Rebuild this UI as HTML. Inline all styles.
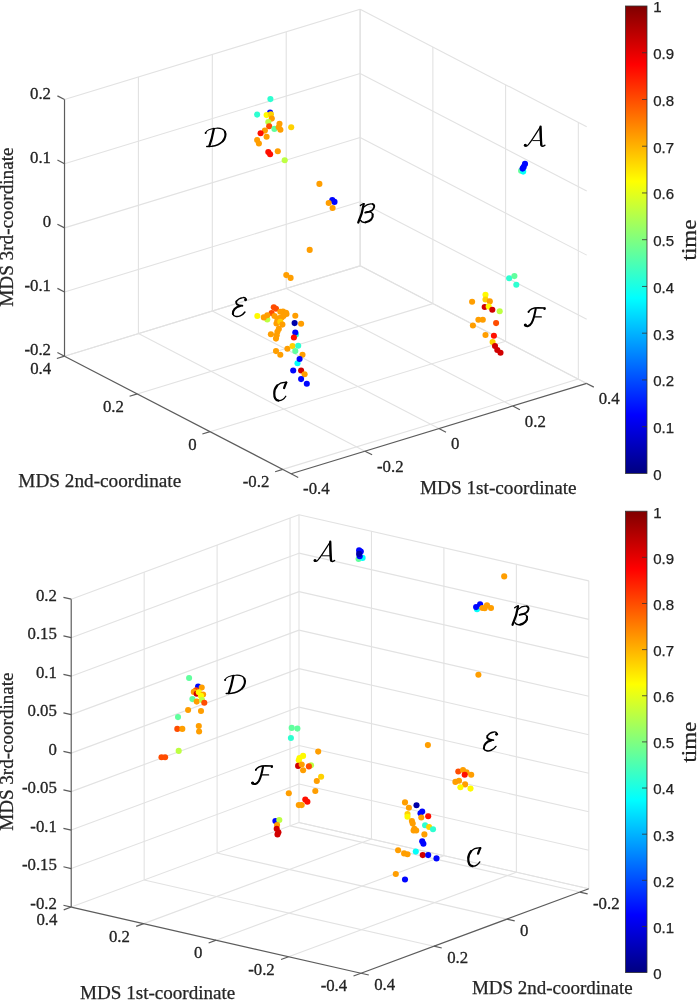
<!DOCTYPE html>
<html><head><meta charset="utf-8"><style>
html,body{margin:0;padding:0;background:#fff;width:697px;height:1000px;overflow:hidden}
svg{display:block;will-change:transform}
text{fill:#262626}
</style></head><body>
<svg width="697" height="1000" viewBox="0 0 697 1000" shape-rendering="geometricPrecision">
<defs><linearGradient id="jt" x1="0" y1="1" x2="0" y2="0">
<stop offset="0" stop-color="#000080"/><stop offset="0.125" stop-color="#0000ff"/><stop offset="0.375" stop-color="#00ffff"/>
<stop offset="0.625" stop-color="#ffff00"/><stop offset="0.875" stop-color="#ff0000"/><stop offset="1" stop-color="#800000"/></linearGradient><linearGradient id="jb" x1="0" y1="1" x2="0" y2="0">
<stop offset="0" stop-color="#000080"/><stop offset="0.125" stop-color="#0000ff"/><stop offset="0.375" stop-color="#00ffff"/>
<stop offset="0.625" stop-color="#ffff00"/><stop offset="0.875" stop-color="#ff0000"/><stop offset="1" stop-color="#800000"/></linearGradient></defs>
<g fill="none">
<line x1="138.42" y1="333.60" x2="138.42" y2="77.00" stroke="#e2e2e2" stroke-width="1.1"/>
<line x1="212.32" y1="311.02" x2="212.32" y2="54.42" stroke="#e2e2e2" stroke-width="1.1"/>
<line x1="286.22" y1="288.44" x2="286.22" y2="31.84" stroke="#e2e2e2" stroke-width="1.1"/>
<line x1="360.12" y1="265.86" x2="360.12" y2="9.26" stroke="#e2e2e2" stroke-width="1.1"/>
<line x1="64.52" y1="356.18" x2="360.12" y2="265.86" stroke="#e2e2e2" stroke-width="1.1"/>
<line x1="64.52" y1="292.03" x2="360.12" y2="201.71" stroke="#e2e2e2" stroke-width="1.1"/>
<line x1="64.52" y1="227.88" x2="360.12" y2="137.56" stroke="#e2e2e2" stroke-width="1.1"/>
<line x1="64.52" y1="163.73" x2="360.12" y2="73.41" stroke="#e2e2e2" stroke-width="1.1"/>
<line x1="64.52" y1="99.58" x2="360.12" y2="9.26" stroke="#e2e2e2" stroke-width="1.1"/>
<line x1="578.34" y1="379.08" x2="578.34" y2="122.48" stroke="#e2e2e2" stroke-width="1.1"/>
<line x1="505.60" y1="341.34" x2="505.60" y2="84.74" stroke="#e2e2e2" stroke-width="1.1"/>
<line x1="432.86" y1="303.60" x2="432.86" y2="47.00" stroke="#e2e2e2" stroke-width="1.1"/>
<line x1="360.12" y1="265.86" x2="360.12" y2="9.26" stroke="#e2e2e2" stroke-width="1.1"/>
<line x1="586.71" y1="383.42" x2="360.12" y2="265.86" stroke="#e2e2e2" stroke-width="1.1"/>
<line x1="586.71" y1="319.27" x2="360.12" y2="201.71" stroke="#e2e2e2" stroke-width="1.1"/>
<line x1="586.71" y1="255.12" x2="360.12" y2="137.56" stroke="#e2e2e2" stroke-width="1.1"/>
<line x1="586.71" y1="190.97" x2="360.12" y2="73.41" stroke="#e2e2e2" stroke-width="1.1"/>
<line x1="586.71" y1="126.82" x2="360.12" y2="9.26" stroke="#e2e2e2" stroke-width="1.1"/>
<line x1="365.01" y1="451.16" x2="138.42" y2="333.60" stroke="#e2e2e2" stroke-width="1.1"/>
<line x1="438.91" y1="428.58" x2="212.32" y2="311.02" stroke="#e2e2e2" stroke-width="1.1"/>
<line x1="512.81" y1="406.00" x2="286.22" y2="288.44" stroke="#e2e2e2" stroke-width="1.1"/>
<line x1="586.71" y1="383.42" x2="360.12" y2="265.86" stroke="#e2e2e2" stroke-width="1.1"/>
<line x1="282.74" y1="469.40" x2="578.34" y2="379.08" stroke="#e2e2e2" stroke-width="1.1"/>
<line x1="210.00" y1="431.66" x2="505.60" y2="341.34" stroke="#e2e2e2" stroke-width="1.1"/>
<line x1="137.26" y1="393.92" x2="432.86" y2="303.60" stroke="#e2e2e2" stroke-width="1.1"/>
<line x1="64.52" y1="356.18" x2="360.12" y2="265.86" stroke="#e2e2e2" stroke-width="1.1"/>
<line x1="64.52" y1="356.18" x2="64.52" y2="99.58" stroke="#5c5c5c" stroke-width="1.2"/>
<line x1="64.52" y1="356.18" x2="291.11" y2="473.74" stroke="#5c5c5c" stroke-width="1.2"/>
<line x1="291.11" y1="473.74" x2="586.71" y2="383.42" stroke="#5c5c5c" stroke-width="1.2"/>
<line x1="64.52" y1="356.18" x2="57.42" y2="352.50" stroke="#5c5c5c" stroke-width="1.2"/>
<text fill="#1c1c1c" stroke="#1c1c1c" stroke-width="0.3" x="51.02" y="355.18" font-size="16.8" text-anchor="end" font-family="Liberation Serif" >-0.2</text>
<line x1="64.52" y1="292.03" x2="57.42" y2="288.35" stroke="#5c5c5c" stroke-width="1.2"/>
<text fill="#1c1c1c" stroke="#1c1c1c" stroke-width="0.3" x="51.02" y="291.03" font-size="16.8" text-anchor="end" font-family="Liberation Serif" >-0.1</text>
<line x1="64.52" y1="227.88" x2="57.42" y2="224.20" stroke="#5c5c5c" stroke-width="1.2"/>
<text fill="#1c1c1c" stroke="#1c1c1c" stroke-width="0.3" x="51.02" y="226.88" font-size="16.8" text-anchor="end" font-family="Liberation Serif" >0</text>
<line x1="64.52" y1="163.73" x2="57.42" y2="160.05" stroke="#5c5c5c" stroke-width="1.2"/>
<text fill="#1c1c1c" stroke="#1c1c1c" stroke-width="0.3" x="51.02" y="162.73" font-size="16.8" text-anchor="end" font-family="Liberation Serif" >0.1</text>
<line x1="64.52" y1="99.58" x2="57.42" y2="95.90" stroke="#5c5c5c" stroke-width="1.2"/>
<text fill="#1c1c1c" stroke="#1c1c1c" stroke-width="0.3" x="51.02" y="98.58" font-size="16.8" text-anchor="end" font-family="Liberation Serif" >0.2</text>
<line x1="282.74" y1="469.40" x2="275.09" y2="471.74" stroke="#5c5c5c" stroke-width="1.2"/>
<text fill="#1c1c1c" stroke="#1c1c1c" stroke-width="0.3" x="269.34" y="487.30" font-size="16.8" text-anchor="end" font-family="Liberation Serif" >-0.2</text>
<line x1="210.00" y1="431.66" x2="202.35" y2="434.00" stroke="#5c5c5c" stroke-width="1.2"/>
<text fill="#1c1c1c" stroke="#1c1c1c" stroke-width="0.3" x="196.60" y="449.56" font-size="16.8" text-anchor="end" font-family="Liberation Serif" >0</text>
<line x1="137.26" y1="393.92" x2="129.61" y2="396.26" stroke="#5c5c5c" stroke-width="1.2"/>
<text fill="#1c1c1c" stroke="#1c1c1c" stroke-width="0.3" x="123.86" y="411.82" font-size="16.8" text-anchor="end" font-family="Liberation Serif" >0.2</text>
<line x1="64.52" y1="356.18" x2="56.87" y2="358.52" stroke="#5c5c5c" stroke-width="1.2"/>
<text fill="#1c1c1c" stroke="#1c1c1c" stroke-width="0.3" x="51.12" y="374.08" font-size="16.8" text-anchor="end" font-family="Liberation Serif" >0.4</text>
<line x1="291.11" y1="473.74" x2="298.21" y2="477.42" stroke="#5c5c5c" stroke-width="1.2"/>
<text fill="#1c1c1c" stroke="#1c1c1c" stroke-width="0.3" x="303.11" y="494.34" font-size="16.8" text-anchor="start" font-family="Liberation Serif" >-0.4</text>
<line x1="365.01" y1="451.16" x2="372.11" y2="454.84" stroke="#5c5c5c" stroke-width="1.2"/>
<text fill="#1c1c1c" stroke="#1c1c1c" stroke-width="0.3" x="377.01" y="471.76" font-size="16.8" text-anchor="start" font-family="Liberation Serif" >-0.2</text>
<line x1="438.91" y1="428.58" x2="446.01" y2="432.26" stroke="#5c5c5c" stroke-width="1.2"/>
<text fill="#1c1c1c" stroke="#1c1c1c" stroke-width="0.3" x="450.91" y="449.18" font-size="16.8" text-anchor="start" font-family="Liberation Serif" >0</text>
<line x1="512.81" y1="406.00" x2="519.91" y2="409.68" stroke="#5c5c5c" stroke-width="1.2"/>
<text fill="#1c1c1c" stroke="#1c1c1c" stroke-width="0.3" x="524.81" y="426.60" font-size="16.8" text-anchor="start" font-family="Liberation Serif" >0.2</text>
<line x1="586.71" y1="383.42" x2="593.81" y2="387.10" stroke="#5c5c5c" stroke-width="1.2"/>
<text fill="#1c1c1c" stroke="#1c1c1c" stroke-width="0.3" x="598.71" y="404.02" font-size="16.8" text-anchor="start" font-family="Liberation Serif" >0.4</text>
<line x1="144.16" y1="880.00" x2="144.16" y2="572.12" stroke="#e2e2e2" stroke-width="1.1"/>
<line x1="217.10" y1="852.94" x2="217.10" y2="545.06" stroke="#e2e2e2" stroke-width="1.1"/>
<line x1="290.04" y1="825.88" x2="290.04" y2="518.00" stroke="#e2e2e2" stroke-width="1.1"/>
<line x1="299.01" y1="822.55" x2="299.01" y2="514.67" stroke="#e2e2e2" stroke-width="1.1"/>
<line x1="299.01" y1="822.55" x2="71.22" y2="907.06" stroke="#e2e2e2" stroke-width="1.1"/>
<line x1="299.01" y1="784.07" x2="71.22" y2="868.58" stroke="#e2e2e2" stroke-width="1.1"/>
<line x1="299.01" y1="745.58" x2="71.22" y2="830.09" stroke="#e2e2e2" stroke-width="1.1"/>
<line x1="299.01" y1="707.10" x2="71.22" y2="791.61" stroke="#e2e2e2" stroke-width="1.1"/>
<line x1="299.01" y1="668.61" x2="71.22" y2="753.12" stroke="#e2e2e2" stroke-width="1.1"/>
<line x1="299.01" y1="630.13" x2="71.22" y2="714.63" stroke="#e2e2e2" stroke-width="1.1"/>
<line x1="299.01" y1="591.64" x2="71.22" y2="676.15" stroke="#e2e2e2" stroke-width="1.1"/>
<line x1="299.01" y1="553.16" x2="71.22" y2="637.66" stroke="#e2e2e2" stroke-width="1.1"/>
<line x1="299.01" y1="514.67" x2="71.22" y2="599.18" stroke="#e2e2e2" stroke-width="1.1"/>
<line x1="371.46" y1="839.10" x2="371.46" y2="531.22" stroke="#e2e2e2" stroke-width="1.1"/>
<line x1="443.91" y1="855.65" x2="443.91" y2="547.77" stroke="#e2e2e2" stroke-width="1.1"/>
<line x1="516.36" y1="872.20" x2="516.36" y2="564.32" stroke="#e2e2e2" stroke-width="1.1"/>
<line x1="588.81" y1="888.75" x2="588.81" y2="580.87" stroke="#e2e2e2" stroke-width="1.1"/>
<line x1="588.81" y1="888.75" x2="299.01" y2="822.55" stroke="#e2e2e2" stroke-width="1.1"/>
<line x1="588.81" y1="850.27" x2="299.01" y2="784.07" stroke="#e2e2e2" stroke-width="1.1"/>
<line x1="588.81" y1="811.78" x2="299.01" y2="745.58" stroke="#e2e2e2" stroke-width="1.1"/>
<line x1="588.81" y1="773.30" x2="299.01" y2="707.10" stroke="#e2e2e2" stroke-width="1.1"/>
<line x1="588.81" y1="734.81" x2="299.01" y2="668.61" stroke="#e2e2e2" stroke-width="1.1"/>
<line x1="588.81" y1="696.33" x2="299.01" y2="630.13" stroke="#e2e2e2" stroke-width="1.1"/>
<line x1="588.81" y1="657.84" x2="299.01" y2="591.64" stroke="#e2e2e2" stroke-width="1.1"/>
<line x1="588.81" y1="619.36" x2="299.01" y2="553.16" stroke="#e2e2e2" stroke-width="1.1"/>
<line x1="588.81" y1="580.87" x2="299.01" y2="514.67" stroke="#e2e2e2" stroke-width="1.1"/>
<line x1="371.46" y1="839.10" x2="143.67" y2="923.61" stroke="#e2e2e2" stroke-width="1.1"/>
<line x1="443.91" y1="855.65" x2="216.12" y2="940.16" stroke="#e2e2e2" stroke-width="1.1"/>
<line x1="516.36" y1="872.20" x2="288.57" y2="956.71" stroke="#e2e2e2" stroke-width="1.1"/>
<line x1="579.84" y1="892.08" x2="290.04" y2="825.88" stroke="#e2e2e2" stroke-width="1.1"/>
<line x1="506.90" y1="919.14" x2="217.10" y2="852.94" stroke="#e2e2e2" stroke-width="1.1"/>
<line x1="433.96" y1="946.20" x2="144.16" y2="880.00" stroke="#e2e2e2" stroke-width="1.1"/>
<line x1="588.81" y1="888.75" x2="299.01" y2="822.55" stroke="#e2e2e2" stroke-width="1.1"/>
<line x1="71.22" y1="907.06" x2="71.22" y2="599.18" stroke="#5c5c5c" stroke-width="1.2"/>
<line x1="71.22" y1="907.06" x2="361.02" y2="973.26" stroke="#5c5c5c" stroke-width="1.2"/>
<line x1="361.02" y1="973.26" x2="588.81" y2="888.75" stroke="#5c5c5c" stroke-width="1.2"/>
<line x1="71.22" y1="907.06" x2="63.42" y2="905.28" stroke="#5c5c5c" stroke-width="1.2"/>
<text fill="#1c1c1c" stroke="#1c1c1c" stroke-width="0.3" x="56.92" y="908.66" font-size="16.8" text-anchor="end" font-family="Liberation Serif" >-0.2</text>
<line x1="71.22" y1="868.58" x2="63.42" y2="866.79" stroke="#5c5c5c" stroke-width="1.2"/>
<text fill="#1c1c1c" stroke="#1c1c1c" stroke-width="0.3" x="56.92" y="870.18" font-size="16.8" text-anchor="end" font-family="Liberation Serif" >-0.15</text>
<line x1="71.22" y1="830.09" x2="63.42" y2="828.31" stroke="#5c5c5c" stroke-width="1.2"/>
<text fill="#1c1c1c" stroke="#1c1c1c" stroke-width="0.3" x="56.92" y="831.69" font-size="16.8" text-anchor="end" font-family="Liberation Serif" >-0.1</text>
<line x1="71.22" y1="791.61" x2="63.42" y2="789.82" stroke="#5c5c5c" stroke-width="1.2"/>
<text fill="#1c1c1c" stroke="#1c1c1c" stroke-width="0.3" x="56.92" y="793.21" font-size="16.8" text-anchor="end" font-family="Liberation Serif" >-0.05</text>
<line x1="71.22" y1="753.12" x2="63.42" y2="751.34" stroke="#5c5c5c" stroke-width="1.2"/>
<text fill="#1c1c1c" stroke="#1c1c1c" stroke-width="0.3" x="56.92" y="754.72" font-size="16.8" text-anchor="end" font-family="Liberation Serif" >0</text>
<line x1="71.22" y1="714.63" x2="63.42" y2="712.85" stroke="#5c5c5c" stroke-width="1.2"/>
<text fill="#1c1c1c" stroke="#1c1c1c" stroke-width="0.3" x="56.92" y="716.24" font-size="16.8" text-anchor="end" font-family="Liberation Serif" >0.05</text>
<line x1="71.22" y1="676.15" x2="63.42" y2="674.37" stroke="#5c5c5c" stroke-width="1.2"/>
<text fill="#1c1c1c" stroke="#1c1c1c" stroke-width="0.3" x="56.92" y="677.75" font-size="16.8" text-anchor="end" font-family="Liberation Serif" >0.1</text>
<line x1="71.22" y1="637.66" x2="63.42" y2="635.88" stroke="#5c5c5c" stroke-width="1.2"/>
<text fill="#1c1c1c" stroke="#1c1c1c" stroke-width="0.3" x="56.92" y="639.26" font-size="16.8" text-anchor="end" font-family="Liberation Serif" >0.15</text>
<line x1="71.22" y1="599.18" x2="63.42" y2="597.40" stroke="#5c5c5c" stroke-width="1.2"/>
<text fill="#1c1c1c" stroke="#1c1c1c" stroke-width="0.3" x="56.92" y="600.78" font-size="16.8" text-anchor="end" font-family="Liberation Serif" >0.2</text>
<line x1="361.02" y1="973.26" x2="353.52" y2="976.04" stroke="#5c5c5c" stroke-width="1.2"/>
<text fill="#1c1c1c" stroke="#1c1c1c" stroke-width="0.3" x="347.22" y="991.16" font-size="16.8" text-anchor="end" font-family="Liberation Serif" >-0.4</text>
<line x1="288.57" y1="956.71" x2="281.07" y2="959.49" stroke="#5c5c5c" stroke-width="1.2"/>
<text fill="#1c1c1c" stroke="#1c1c1c" stroke-width="0.3" x="274.77" y="974.61" font-size="16.8" text-anchor="end" font-family="Liberation Serif" >-0.2</text>
<line x1="216.12" y1="940.16" x2="208.62" y2="942.94" stroke="#5c5c5c" stroke-width="1.2"/>
<text fill="#1c1c1c" stroke="#1c1c1c" stroke-width="0.3" x="202.32" y="958.06" font-size="16.8" text-anchor="end" font-family="Liberation Serif" >0</text>
<line x1="143.67" y1="923.61" x2="136.17" y2="926.39" stroke="#5c5c5c" stroke-width="1.2"/>
<text fill="#1c1c1c" stroke="#1c1c1c" stroke-width="0.3" x="129.87" y="941.51" font-size="16.8" text-anchor="end" font-family="Liberation Serif" >0.2</text>
<line x1="71.22" y1="907.06" x2="63.72" y2="909.84" stroke="#5c5c5c" stroke-width="1.2"/>
<text fill="#1c1c1c" stroke="#1c1c1c" stroke-width="0.3" x="57.42" y="924.96" font-size="16.8" text-anchor="end" font-family="Liberation Serif" >0.4</text>
<line x1="579.84" y1="892.08" x2="587.64" y2="893.86" stroke="#5c5c5c" stroke-width="1.2"/>
<text fill="#1c1c1c" stroke="#1c1c1c" stroke-width="0.3" x="593.04" y="908.98" font-size="16.8" text-anchor="start" font-family="Liberation Serif" >-0.2</text>
<line x1="506.90" y1="919.14" x2="514.70" y2="920.92" stroke="#5c5c5c" stroke-width="1.2"/>
<text fill="#1c1c1c" stroke="#1c1c1c" stroke-width="0.3" x="520.10" y="936.04" font-size="16.8" text-anchor="start" font-family="Liberation Serif" >0</text>
<line x1="433.96" y1="946.20" x2="441.76" y2="947.98" stroke="#5c5c5c" stroke-width="1.2"/>
<text fill="#1c1c1c" stroke="#1c1c1c" stroke-width="0.3" x="447.16" y="963.10" font-size="16.8" text-anchor="start" font-family="Liberation Serif" >0.2</text>
<line x1="361.02" y1="973.26" x2="368.82" y2="975.04" stroke="#5c5c5c" stroke-width="1.2"/>
<text fill="#1c1c1c" stroke="#1c1c1c" stroke-width="0.3" x="374.22" y="990.16" font-size="16.8" text-anchor="start" font-family="Liberation Serif" >0.4</text>
</g>
<circle cx="270.4" cy="99.1" r="3.05" fill="#2effd1"/>
<circle cx="257.1" cy="114.6" r="3.05" fill="#2effd1"/>
<circle cx="270.1" cy="112.5" r="3.05" fill="#0005ff"/>
<circle cx="266.6" cy="115.1" r="3.05" fill="#fffa00"/>
<circle cx="270.9" cy="114.3" r="3.05" fill="#ffd100"/>
<circle cx="271.8" cy="118.6" r="3.05" fill="#ff9e00"/>
<circle cx="268.3" cy="122.0" r="3.05" fill="#bdff42"/>
<circle cx="269.2" cy="126.3" r="3.05" fill="#ff4c00"/>
<circle cx="274.4" cy="128.9" r="3.05" fill="#61ff9e"/>
<circle cx="279.5" cy="123.7" r="3.05" fill="#ff9e00"/>
<circle cx="280.4" cy="129.8" r="3.05" fill="#ff9e00"/>
<circle cx="278.7" cy="127.2" r="3.05" fill="#ff9e00"/>
<circle cx="264.9" cy="130.6" r="3.05" fill="#ff9e00"/>
<circle cx="260.6" cy="133.2" r="3.05" fill="#ff0f00"/>
<circle cx="266.6" cy="136.7" r="3.05" fill="#ff9e00"/>
<circle cx="257.1" cy="140.1" r="3.05" fill="#ff9e00"/>
<circle cx="258.9" cy="143.5" r="3.05" fill="#ff9e00"/>
<circle cx="268.3" cy="152.1" r="3.05" fill="#ff0f00"/>
<circle cx="270.1" cy="154.2" r="3.05" fill="#ff0f00"/>
<circle cx="277.8" cy="151.3" r="3.05" fill="#ff9e00"/>
<circle cx="284.7" cy="160.2" r="3.05" fill="#bdff42"/>
<circle cx="291.2" cy="127.2" r="3.05" fill="#ffd100"/>
<circle cx="319.4" cy="183.9" r="3.05" fill="#ff9e00"/>
<circle cx="332.3" cy="200.1" r="3.05" fill="#0005ff"/>
<circle cx="334.5" cy="201.9" r="3.05" fill="#0005ff"/>
<circle cx="328.7" cy="203.0" r="3.05" fill="#ff9e00"/>
<circle cx="332.6" cy="208.0" r="3.05" fill="#ff9e00"/>
<circle cx="309.7" cy="249.9" r="3.05" fill="#ff9e00"/>
<circle cx="267.3" cy="319.5" r="3.05" fill="#bdff42"/>
<circle cx="296.0" cy="334.6" r="3.05" fill="#2effd1"/>
<circle cx="286.3" cy="275.1" r="3.05" fill="#ff9e00"/>
<circle cx="290.6" cy="277.9" r="3.05" fill="#ff9e00"/>
<circle cx="273.8" cy="307.3" r="3.05" fill="#ff4c00"/>
<circle cx="276.0" cy="308.8" r="3.05" fill="#ff4c00"/>
<circle cx="271.6" cy="313.1" r="3.05" fill="#ff4c00"/>
<circle cx="257.3" cy="316.0" r="3.05" fill="#fffa00"/>
<circle cx="263.8" cy="317.4" r="3.05" fill="#ff9e00"/>
<circle cx="267.3" cy="315.2" r="3.05" fill="#ff9e00"/>
<circle cx="283.0" cy="311.5" r="3.05" fill="#ff9e00"/>
<circle cx="286.5" cy="314.0" r="3.05" fill="#ff9e00"/>
<circle cx="279.5" cy="318.0" r="3.05" fill="#ff9e00"/>
<circle cx="283.5" cy="316.0" r="3.05" fill="#ff9e00"/>
<circle cx="276.5" cy="323.5" r="3.05" fill="#ff9e00"/>
<circle cx="274.5" cy="316.0" r="3.05" fill="#ff9e00"/>
<circle cx="280.3" cy="311.7" r="3.05" fill="#ff9e00"/>
<circle cx="286.0" cy="312.8" r="3.05" fill="#ff9e00"/>
<circle cx="281.7" cy="317.4" r="3.05" fill="#ff9e00"/>
<circle cx="277.4" cy="320.3" r="3.05" fill="#ff9e00"/>
<circle cx="280.3" cy="321.7" r="3.05" fill="#ffd100"/>
<circle cx="282.4" cy="324.6" r="3.05" fill="#ff9e00"/>
<circle cx="278.8" cy="328.9" r="3.05" fill="#ff9e00"/>
<circle cx="277.4" cy="331.7" r="3.05" fill="#ff9e00"/>
<circle cx="270.9" cy="334.3" r="3.05" fill="#ff9e00"/>
<circle cx="276.7" cy="335.3" r="3.05" fill="#ff9e00"/>
<circle cx="276.0" cy="338.6" r="3.05" fill="#ff9e00"/>
<circle cx="295.3" cy="315.7" r="3.05" fill="#ff9e00"/>
<circle cx="294.6" cy="323.1" r="3.05" fill="#0000a8"/>
<circle cx="301.1" cy="323.8" r="3.05" fill="#ff9e00"/>
<circle cx="295.3" cy="332.5" r="3.05" fill="#0005ff"/>
<circle cx="293.9" cy="337.5" r="3.05" fill="#ff0f00"/>
<circle cx="287.4" cy="348.7" r="3.05" fill="#ff9e00"/>
<circle cx="292.5" cy="346.1" r="3.05" fill="#ffd100"/>
<circle cx="298.2" cy="345.7" r="3.05" fill="#2effd1"/>
<circle cx="295.3" cy="351.1" r="3.05" fill="#61ff9e"/>
<circle cx="276.0" cy="351.1" r="3.05" fill="#ff9e00"/>
<circle cx="280.3" cy="354.7" r="3.05" fill="#ff9e00"/>
<circle cx="302.5" cy="354.7" r="3.05" fill="#ff9e00"/>
<circle cx="297.5" cy="363.3" r="3.05" fill="#05fffa"/>
<circle cx="299.6" cy="359.0" r="3.05" fill="#0005ff"/>
<circle cx="293.2" cy="370.5" r="3.05" fill="#0005ff"/>
<circle cx="301.1" cy="370.5" r="3.05" fill="#d10000"/>
<circle cx="304.6" cy="374.3" r="3.05" fill="#ff9e00"/>
<circle cx="301.1" cy="379.1" r="3.05" fill="#0005ff"/>
<circle cx="306.8" cy="383.7" r="3.05" fill="#0005ff"/>
<circle cx="521.1" cy="170.8" r="3.05" fill="#61ff9e"/>
<circle cx="523.2" cy="171.6" r="3.05" fill="#05fffa"/>
<circle cx="522.6" cy="168.6" r="3.05" fill="#0005ff"/>
<circle cx="523.7" cy="166.9" r="3.05" fill="#0005ff"/>
<circle cx="525.0" cy="163.9" r="3.05" fill="#0005ff"/>
<circle cx="509.2" cy="278.2" r="3.05" fill="#2effd1"/>
<circle cx="514.4" cy="276.1" r="3.05" fill="#61ff9e"/>
<circle cx="516.3" cy="284.8" r="3.05" fill="#2effd1"/>
<circle cx="472.1" cy="301.8" r="3.05" fill="#ff9e00"/>
<circle cx="485.5" cy="294.7" r="3.05" fill="#fffa00"/>
<circle cx="485.5" cy="299.5" r="3.05" fill="#ffd100"/>
<circle cx="489.8" cy="301.4" r="3.05" fill="#ff9e00"/>
<circle cx="484.7" cy="307.0" r="3.05" fill="#d10000"/>
<circle cx="488.7" cy="306.6" r="3.05" fill="#fffa00"/>
<circle cx="492.3" cy="309.7" r="3.05" fill="#d10000"/>
<circle cx="499.7" cy="311.3" r="3.05" fill="#bdff42"/>
<circle cx="478.4" cy="319.7" r="3.05" fill="#ff9e00"/>
<circle cx="482.8" cy="319.7" r="3.05" fill="#ff9e00"/>
<circle cx="472.9" cy="325.5" r="3.05" fill="#ff9e00"/>
<circle cx="496.1" cy="323.1" r="3.05" fill="#ff4c00"/>
<circle cx="485.5" cy="335.0" r="3.05" fill="#ff9e00"/>
<circle cx="492.6" cy="342.1" r="3.05" fill="#ffd100"/>
<circle cx="493.9" cy="335.8" r="3.05" fill="#ff0f00"/>
<circle cx="495.0" cy="346.0" r="3.05" fill="#d10000"/>
<circle cx="497.3" cy="350.0" r="3.05" fill="#d10000"/>
<circle cx="500.5" cy="352.8" r="3.05" fill="#d10000"/>
<circle cx="358.6" cy="559.0" r="3.05" fill="#61ff9e"/>
<circle cx="362.6" cy="557.9" r="3.05" fill="#05fffa"/>
<circle cx="359.7" cy="556.2" r="3.05" fill="#0005ff"/>
<circle cx="359.1" cy="550.4" r="3.05" fill="#0005ff"/>
<circle cx="360.8" cy="551.6" r="3.05" fill="#0005ff"/>
<circle cx="359.1" cy="553.9" r="3.05" fill="#0000a8"/>
<circle cx="504.2" cy="576.4" r="3.05" fill="#ff9e00"/>
<circle cx="477.0" cy="609.3" r="3.05" fill="#05fffa"/>
<circle cx="476.1" cy="607.1" r="3.05" fill="#0005ff"/>
<circle cx="480.1" cy="604.2" r="3.05" fill="#0005ff"/>
<circle cx="482.4" cy="608.0" r="3.05" fill="#ff9e00"/>
<circle cx="487.0" cy="605.3" r="3.05" fill="#ff9e00"/>
<circle cx="484.7" cy="608.2" r="3.05" fill="#ff9e00"/>
<circle cx="491.0" cy="608.0" r="3.05" fill="#ff9e00"/>
<circle cx="478.4" cy="674.8" r="3.05" fill="#ff9e00"/>
<circle cx="427.9" cy="745.1" r="3.05" fill="#ff9e00"/>
<circle cx="189.1" cy="678.0" r="3.05" fill="#61ff9e"/>
<circle cx="198.1" cy="686.6" r="3.05" fill="#0005ff"/>
<circle cx="201.7" cy="687.6" r="3.05" fill="#ff9e00"/>
<circle cx="196.0" cy="690.2" r="3.05" fill="#ff4c00"/>
<circle cx="193.8" cy="691.9" r="3.05" fill="#ff9e00"/>
<circle cx="196.7" cy="693.8" r="3.05" fill="#d10000"/>
<circle cx="198.8" cy="692.3" r="3.05" fill="#fffa00"/>
<circle cx="203.1" cy="694.5" r="3.05" fill="#ff9e00"/>
<circle cx="201.0" cy="695.9" r="3.05" fill="#fffa00"/>
<circle cx="192.4" cy="699.1" r="3.05" fill="#61ff9e"/>
<circle cx="196.7" cy="701.6" r="3.05" fill="#ff9e00"/>
<circle cx="202.0" cy="700.0" r="3.05" fill="#bdff42"/>
<circle cx="204.3" cy="702.8" r="3.05" fill="#ff4c00"/>
<circle cx="188.1" cy="710.0" r="3.05" fill="#ff9e00"/>
<circle cx="201.0" cy="711.0" r="3.05" fill="#ff9e00"/>
<circle cx="178.0" cy="717.1" r="3.05" fill="#61ff9e"/>
<circle cx="177.3" cy="728.9" r="3.05" fill="#ff4c00"/>
<circle cx="182.3" cy="728.9" r="3.05" fill="#ff9e00"/>
<circle cx="198.8" cy="726.0" r="3.05" fill="#ff9e00"/>
<circle cx="199.1" cy="731.5" r="3.05" fill="#ff9e00"/>
<circle cx="178.7" cy="750.9" r="3.05" fill="#bdff42"/>
<circle cx="161.5" cy="757.3" r="3.05" fill="#ff4c00"/>
<circle cx="165.1" cy="757.3" r="3.05" fill="#ff4c00"/>
<circle cx="291.7" cy="727.9" r="3.05" fill="#61ff9e"/>
<circle cx="297.4" cy="728.6" r="3.05" fill="#61ff9e"/>
<circle cx="290.9" cy="738.0" r="3.05" fill="#2effd1"/>
<circle cx="318.2" cy="751.6" r="3.05" fill="#ff9e00"/>
<circle cx="303.1" cy="755.9" r="3.05" fill="#fffa00"/>
<circle cx="299.5" cy="758.0" r="3.05" fill="#fffa00"/>
<circle cx="298.8" cy="760.2" r="3.05" fill="#fffa00"/>
<circle cx="311.0" cy="765.2" r="3.05" fill="#bdff42"/>
<circle cx="298.1" cy="765.9" r="3.05" fill="#d10000"/>
<circle cx="301.7" cy="764.5" r="3.05" fill="#ff9e00"/>
<circle cx="308.9" cy="766.4" r="3.05" fill="#ff4c00"/>
<circle cx="303.1" cy="770.2" r="3.05" fill="#ff9e00"/>
<circle cx="321.1" cy="776.7" r="3.05" fill="#ffd100"/>
<circle cx="316.8" cy="781.0" r="3.05" fill="#ff9e00"/>
<circle cx="315.3" cy="791.0" r="3.05" fill="#ff9e00"/>
<circle cx="288.8" cy="793.2" r="3.05" fill="#ff9e00"/>
<circle cx="305.3" cy="799.6" r="3.05" fill="#ff0f00"/>
<circle cx="307.4" cy="801.8" r="3.05" fill="#ff0f00"/>
<circle cx="298.8" cy="805.1" r="3.05" fill="#ff9e00"/>
<circle cx="301.7" cy="805.1" r="3.05" fill="#ff9e00"/>
<circle cx="275.4" cy="821.1" r="3.05" fill="#0005ff"/>
<circle cx="279.3" cy="820.0" r="3.05" fill="#bdff42"/>
<circle cx="277.1" cy="825.0" r="3.05" fill="#ff9e00"/>
<circle cx="276.7" cy="828.8" r="3.05" fill="#d10000"/>
<circle cx="278.4" cy="832.3" r="3.05" fill="#d10000"/>
<circle cx="277.5" cy="834.4" r="3.05" fill="#d10000"/>
<circle cx="458.3" cy="771.5" r="3.05" fill="#ff4c00"/>
<circle cx="463.0" cy="770.1" r="3.05" fill="#ff9e00"/>
<circle cx="466.5" cy="772.2" r="3.05" fill="#ff9e00"/>
<circle cx="464.7" cy="774.7" r="3.05" fill="#ff0f00"/>
<circle cx="471.2" cy="774.7" r="3.05" fill="#ff9e00"/>
<circle cx="455.4" cy="781.9" r="3.05" fill="#ff9e00"/>
<circle cx="459.0" cy="780.8" r="3.05" fill="#ff9e00"/>
<circle cx="465.1" cy="784.4" r="3.05" fill="#ff9e00"/>
<circle cx="460.4" cy="787.3" r="3.05" fill="#fffa00"/>
<circle cx="470.5" cy="788.6" r="3.05" fill="#fffa00"/>
<circle cx="405.0" cy="802.4" r="3.05" fill="#ff9e00"/>
<circle cx="416.5" cy="805.2" r="3.05" fill="#0000a8"/>
<circle cx="408.9" cy="807.7" r="3.05" fill="#ff9e00"/>
<circle cx="422.2" cy="811.5" r="3.05" fill="#0005ff"/>
<circle cx="420.5" cy="813.2" r="3.05" fill="#0005ff"/>
<circle cx="407.5" cy="814.1" r="3.05" fill="#ffd100"/>
<circle cx="407.5" cy="816.7" r="3.05" fill="#fffa00"/>
<circle cx="421.3" cy="817.5" r="3.05" fill="#ff9e00"/>
<circle cx="428.2" cy="816.2" r="3.05" fill="#ff0f00"/>
<circle cx="411.9" cy="821.0" r="3.05" fill="#ff9e00"/>
<circle cx="412.7" cy="823.6" r="3.05" fill="#ff9e00"/>
<circle cx="425.1" cy="825.3" r="3.05" fill="#2effd1"/>
<circle cx="429.1" cy="827.0" r="3.05" fill="#ffd100"/>
<circle cx="433.0" cy="829.3" r="3.05" fill="#2effd1"/>
<circle cx="414.4" cy="828.7" r="3.05" fill="#ff9e00"/>
<circle cx="413.6" cy="830.5" r="3.05" fill="#ff9e00"/>
<circle cx="416.2" cy="830.5" r="3.05" fill="#ff9e00"/>
<circle cx="424.4" cy="834.4" r="3.05" fill="#ff9e00"/>
<circle cx="422.2" cy="841.3" r="3.05" fill="#0005ff"/>
<circle cx="423.4" cy="843.7" r="3.05" fill="#0005ff"/>
<circle cx="398.1" cy="850.3" r="3.05" fill="#ff9e00"/>
<circle cx="404.1" cy="853.4" r="3.05" fill="#ff9e00"/>
<circle cx="407.5" cy="854.2" r="3.05" fill="#ff9e00"/>
<circle cx="415.8" cy="851.6" r="3.05" fill="#05fffa"/>
<circle cx="422.7" cy="855.1" r="3.05" fill="#d10000"/>
<circle cx="428.2" cy="855.1" r="3.05" fill="#0005ff"/>
<circle cx="436.5" cy="858.4" r="3.05" fill="#0005ff"/>
<circle cx="395.8" cy="874.0" r="3.05" fill="#ff9e00"/>
<circle cx="405.0" cy="879.5" r="3.05" fill="#0005ff"/>
<rect x="625.5" y="6.0" width="21.5" height="467.4" fill="url(#jt)" stroke="#333" stroke-width="0.8"/>
<text x="653.2" y="479.80" font-size="15" font-family="Liberation Sans" fill="#111" stroke="#111" stroke-width="0.25">0</text>
<line x1="642.0" y1="426.66" x2="647.0" y2="426.66" stroke="#333" stroke-width="0.8"/>
<text x="653.2" y="433.06" font-size="15" font-family="Liberation Sans" fill="#111" stroke="#111" stroke-width="0.25">0.1</text>
<line x1="642.0" y1="379.92" x2="647.0" y2="379.92" stroke="#333" stroke-width="0.8"/>
<text x="653.2" y="386.32" font-size="15" font-family="Liberation Sans" fill="#111" stroke="#111" stroke-width="0.25">0.2</text>
<line x1="642.0" y1="333.18" x2="647.0" y2="333.18" stroke="#333" stroke-width="0.8"/>
<text x="653.2" y="339.58" font-size="15" font-family="Liberation Sans" fill="#111" stroke="#111" stroke-width="0.25">0.3</text>
<line x1="642.0" y1="286.44" x2="647.0" y2="286.44" stroke="#333" stroke-width="0.8"/>
<text x="653.2" y="292.84" font-size="15" font-family="Liberation Sans" fill="#111" stroke="#111" stroke-width="0.25">0.4</text>
<line x1="642.0" y1="239.70" x2="647.0" y2="239.70" stroke="#333" stroke-width="0.8"/>
<text x="653.2" y="246.10" font-size="15" font-family="Liberation Sans" fill="#111" stroke="#111" stroke-width="0.25">0.5</text>
<line x1="642.0" y1="192.96" x2="647.0" y2="192.96" stroke="#333" stroke-width="0.8"/>
<text x="653.2" y="199.36" font-size="15" font-family="Liberation Sans" fill="#111" stroke="#111" stroke-width="0.25">0.6</text>
<line x1="642.0" y1="146.22" x2="647.0" y2="146.22" stroke="#333" stroke-width="0.8"/>
<text x="653.2" y="152.62" font-size="15" font-family="Liberation Sans" fill="#111" stroke="#111" stroke-width="0.25">0.7</text>
<line x1="642.0" y1="99.48" x2="647.0" y2="99.48" stroke="#333" stroke-width="0.8"/>
<text x="653.2" y="105.88" font-size="15" font-family="Liberation Sans" fill="#111" stroke="#111" stroke-width="0.25">0.8</text>
<line x1="642.0" y1="52.74" x2="647.0" y2="52.74" stroke="#333" stroke-width="0.8"/>
<text x="653.2" y="59.14" font-size="15" font-family="Liberation Sans" fill="#111" stroke="#111" stroke-width="0.25">0.9</text>
<text x="653.2" y="12.40" font-size="15" font-family="Liberation Sans" fill="#111" stroke="#111" stroke-width="0.25">1</text>
<rect x="625.5" y="511.2" width="21.5" height="461.40000000000003" fill="url(#jb)" stroke="#333" stroke-width="0.8"/>
<text x="653.2" y="979.00" font-size="15" font-family="Liberation Sans" fill="#111" stroke="#111" stroke-width="0.25">0</text>
<line x1="642.0" y1="926.46" x2="647.0" y2="926.46" stroke="#333" stroke-width="0.8"/>
<text x="653.2" y="932.86" font-size="15" font-family="Liberation Sans" fill="#111" stroke="#111" stroke-width="0.25">0.1</text>
<line x1="642.0" y1="880.32" x2="647.0" y2="880.32" stroke="#333" stroke-width="0.8"/>
<text x="653.2" y="886.72" font-size="15" font-family="Liberation Sans" fill="#111" stroke="#111" stroke-width="0.25">0.2</text>
<line x1="642.0" y1="834.18" x2="647.0" y2="834.18" stroke="#333" stroke-width="0.8"/>
<text x="653.2" y="840.58" font-size="15" font-family="Liberation Sans" fill="#111" stroke="#111" stroke-width="0.25">0.3</text>
<line x1="642.0" y1="788.04" x2="647.0" y2="788.04" stroke="#333" stroke-width="0.8"/>
<text x="653.2" y="794.44" font-size="15" font-family="Liberation Sans" fill="#111" stroke="#111" stroke-width="0.25">0.4</text>
<line x1="642.0" y1="741.90" x2="647.0" y2="741.90" stroke="#333" stroke-width="0.8"/>
<text x="653.2" y="748.30" font-size="15" font-family="Liberation Sans" fill="#111" stroke="#111" stroke-width="0.25">0.5</text>
<line x1="642.0" y1="695.76" x2="647.0" y2="695.76" stroke="#333" stroke-width="0.8"/>
<text x="653.2" y="702.16" font-size="15" font-family="Liberation Sans" fill="#111" stroke="#111" stroke-width="0.25">0.6</text>
<line x1="642.0" y1="649.62" x2="647.0" y2="649.62" stroke="#333" stroke-width="0.8"/>
<text x="653.2" y="656.02" font-size="15" font-family="Liberation Sans" fill="#111" stroke="#111" stroke-width="0.25">0.7</text>
<line x1="642.0" y1="603.48" x2="647.0" y2="603.48" stroke="#333" stroke-width="0.8"/>
<text x="653.2" y="609.88" font-size="15" font-family="Liberation Sans" fill="#111" stroke="#111" stroke-width="0.25">0.8</text>
<line x1="642.0" y1="557.34" x2="647.0" y2="557.34" stroke="#333" stroke-width="0.8"/>
<text x="653.2" y="563.74" font-size="15" font-family="Liberation Sans" fill="#111" stroke="#111" stroke-width="0.25">0.9</text>
<text x="653.2" y="517.60" font-size="15" font-family="Liberation Sans" fill="#111" stroke="#111" stroke-width="0.25">1</text>
<text x="18.3" y="487.3" font-size="18.5" font-family="Liberation Serif" fill="#1c1c1c" stroke="#1c1c1c" stroke-width="0.25" textLength="162.89999999999998" lengthAdjust="spacingAndGlyphs">MDS 2nd-coordinate</text>
<text x="419.9" y="494.0" font-size="18.5" font-family="Liberation Serif" fill="#1c1c1c" stroke="#1c1c1c" stroke-width="0.25" textLength="156.70000000000005" lengthAdjust="spacingAndGlyphs">MDS 1st-coordinate</text>
<text transform="translate(12.9,306.8) rotate(-90)" x="0" y="0" font-size="18.5" font-family="Liberation Serif" fill="#1c1c1c" stroke="#1c1c1c" stroke-width="0.25" textLength="159.4" lengthAdjust="spacingAndGlyphs">MDS 3rd-coordinate</text>
<text x="80.1" y="998.5" font-size="18.5" font-family="Liberation Serif" fill="#1c1c1c" stroke="#1c1c1c" stroke-width="0.25" textLength="155.20000000000002" lengthAdjust="spacingAndGlyphs">MDS 1st-coordinate</text>
<text x="471.9" y="993.9" font-size="18.5" font-family="Liberation Serif" fill="#1c1c1c" stroke="#1c1c1c" stroke-width="0.25" textLength="160.80000000000007" lengthAdjust="spacingAndGlyphs">MDS 2nd-coordinate</text>
<text transform="translate(12.9,830.8) rotate(-90)" x="0" y="0" font-size="18.5" font-family="Liberation Serif" fill="#1c1c1c" stroke="#1c1c1c" stroke-width="0.25" textLength="158.29999999999995" lengthAdjust="spacingAndGlyphs">MDS 3rd-coordinate</text>
<text transform="translate(695.8,260.4) rotate(-90)" x="0" y="0" font-size="21" font-family="Liberation Serif" fill="#1c1c1c" stroke="#1c1c1c" stroke-width="0.25" textLength="40.8" lengthAdjust="spacingAndGlyphs">time</text>
<text transform="translate(695.8,762.6) rotate(-90)" x="0" y="0" font-size="21" font-family="Liberation Serif" fill="#1c1c1c" stroke="#1c1c1c" stroke-width="0.25" textLength="40.8" lengthAdjust="spacingAndGlyphs">time</text>
<g transform="translate(520,122) scale(0.04304)"><path d="M478,105 C420,190 300,400 200,520 C160,570 120,580 110,530" fill="none" stroke="#000" stroke-width="28.0" stroke-linecap="round" stroke-linejoin="round"/><path d="M478,105 C485,250 482,430 498,545" fill="none" stroke="#000" stroke-width="52.0" stroke-linecap="round" stroke-linejoin="round"/><path d="M470,140 C475,300 480,400 490,520" fill="none" stroke="#000" stroke-width="40.0" stroke-linecap="round" stroke-linejoin="round"/><path d="M498,545 C505,575 550,565 578,540" fill="none" stroke="#000" stroke-width="34.0" stroke-linecap="round" stroke-linejoin="round"/><path d="M295,432 L468,432" fill="none" stroke="#000" stroke-width="22.0" stroke-linecap="round" stroke-linejoin="round"/><circle cx="125" cy="540" r="36" fill="#000"/></g>
<g transform="translate(352,198) scale(0.04304)"><path d="M195,175 C220,150 250,135 280,130" fill="none" stroke="#000" stroke-width="32.0" stroke-linecap="round" stroke-linejoin="round"/><path d="M272,140 C250,300 200,450 145,570" fill="none" stroke="#000" stroke-width="52.0" stroke-linecap="round" stroke-linejoin="round"/><path d="M275,210 C330,160 420,125 480,140" fill="none" stroke="#000" stroke-width="28.0" stroke-linecap="round" stroke-linejoin="round"/><path d="M480,140 C540,160 520,250 460,290 C410,320 350,335 310,340" fill="none" stroke="#000" stroke-width="44.0" stroke-linecap="round" stroke-linejoin="round"/><path d="M310,335 C380,305 460,310 480,380" fill="none" stroke="#000" stroke-width="30.0" stroke-linecap="round" stroke-linejoin="round"/><path d="M480,380 C500,470 420,545 320,565" fill="none" stroke="#000" stroke-width="50.0" stroke-linecap="round" stroke-linejoin="round"/><path d="M320,565 C260,575 220,560 200,520" fill="none" stroke="#000" stroke-width="34.0" stroke-linecap="round" stroke-linejoin="round"/></g>
<g transform="translate(266,376) scale(0.04304)"><path d="M470,150 C440,220 430,250 420,280" fill="none" stroke="#000" stroke-width="52.0" stroke-linecap="round" stroke-linejoin="round"/><path d="M480,150 C400,138 320,160 260,220" fill="none" stroke="#000" stroke-width="30.0" stroke-linecap="round" stroke-linejoin="round"/><path d="M260,220 C210,280 190,340 192,400 C190,480 220,560 290,572" fill="none" stroke="#000" stroke-width="52.0" stroke-linecap="round" stroke-linejoin="round"/><path d="M290,572 C370,575 430,520 460,470" fill="none" stroke="#000" stroke-width="30.0" stroke-linecap="round" stroke-linejoin="round"/></g>
<g transform="translate(202,122) scale(0.04304)"><path d="M80,255 C110,190 200,150 330,145 C420,140 500,160 530,220" fill="none" stroke="#000" stroke-width="28.0" stroke-linecap="round" stroke-linejoin="round"/><path d="M530,220 C560,280 545,380 480,450" fill="none" stroke="#000" stroke-width="48.0" stroke-linecap="round" stroke-linejoin="round"/><path d="M480,450 C420,510 330,555 230,565 L110,570" fill="none" stroke="#000" stroke-width="34.0" stroke-linecap="round" stroke-linejoin="round"/><path d="M275,160 C250,300 220,430 170,560" fill="none" stroke="#000" stroke-width="52.0" stroke-linecap="round" stroke-linejoin="round"/><circle cx="85" cy="255" r="22" fill="#000"/></g>
<g transform="translate(226,292) scale(0.04304)"><path d="M450,195 C480,150 440,120 390,130 C330,140 270,170 240,220" fill="none" stroke="#000" stroke-width="32.0" stroke-linecap="round" stroke-linejoin="round"/><path d="M240,220 C220,270 260,320 380,318" fill="none" stroke="#000" stroke-width="44.0" stroke-linecap="round" stroke-linejoin="round"/><path d="M330,325 C220,350 150,430 160,510" fill="none" stroke="#000" stroke-width="50.0" stroke-linecap="round" stroke-linejoin="round"/><path d="M160,510 C170,570 260,585 330,555 C380,535 415,500 440,465" fill="none" stroke="#000" stroke-width="34.0" stroke-linecap="round" stroke-linejoin="round"/><circle cx="455" cy="180" r="34" fill="#000"/></g>
<g transform="translate(520,302) scale(0.04304)"><path d="M195,235 C230,160 300,135 420,135 L580,140" fill="none" stroke="#000" stroke-width="34.0" stroke-linecap="round" stroke-linejoin="round"/><path d="M365,160 C340,300 320,400 270,490 C230,560 150,585 115,535" fill="none" stroke="#000" stroke-width="48.0" stroke-linecap="round" stroke-linejoin="round"/><path d="M335,348 L495,348" fill="none" stroke="#000" stroke-width="30.0" stroke-linecap="round" stroke-linejoin="round"/><circle cx="570" cy="158" r="28" fill="#000"/><circle cx="125" cy="535" r="36" fill="#000"/><circle cx="200" cy="228" r="22" fill="#000"/></g>
<g transform="translate(309.7,537.2) scale(0.04304)"><path d="M478,105 C420,190 300,400 200,520 C160,570 120,580 110,530" fill="none" stroke="#000" stroke-width="28.0" stroke-linecap="round" stroke-linejoin="round"/><path d="M478,105 C485,250 482,430 498,545" fill="none" stroke="#000" stroke-width="52.0" stroke-linecap="round" stroke-linejoin="round"/><path d="M470,140 C475,300 480,400 490,520" fill="none" stroke="#000" stroke-width="40.0" stroke-linecap="round" stroke-linejoin="round"/><path d="M498,545 C505,575 550,565 578,540" fill="none" stroke="#000" stroke-width="34.0" stroke-linecap="round" stroke-linejoin="round"/><path d="M295,432 L468,432" fill="none" stroke="#000" stroke-width="22.0" stroke-linecap="round" stroke-linejoin="round"/><circle cx="125" cy="540" r="36" fill="#000"/></g>
<g transform="translate(506.3,600.3) scale(0.04304)"><path d="M195,175 C220,150 250,135 280,130" fill="none" stroke="#000" stroke-width="32.0" stroke-linecap="round" stroke-linejoin="round"/><path d="M272,140 C250,300 200,450 145,570" fill="none" stroke="#000" stroke-width="52.0" stroke-linecap="round" stroke-linejoin="round"/><path d="M275,210 C330,160 420,125 480,140" fill="none" stroke="#000" stroke-width="28.0" stroke-linecap="round" stroke-linejoin="round"/><path d="M480,140 C540,160 520,250 460,290 C410,320 350,335 310,340" fill="none" stroke="#000" stroke-width="44.0" stroke-linecap="round" stroke-linejoin="round"/><path d="M310,335 C380,305 460,310 480,380" fill="none" stroke="#000" stroke-width="30.0" stroke-linecap="round" stroke-linejoin="round"/><path d="M480,380 C500,470 420,545 320,565" fill="none" stroke="#000" stroke-width="50.0" stroke-linecap="round" stroke-linejoin="round"/><path d="M320,565 C260,575 220,560 200,520" fill="none" stroke="#000" stroke-width="34.0" stroke-linecap="round" stroke-linejoin="round"/></g>
<g transform="translate(460,841.6) scale(0.04304)"><path d="M470,150 C440,220 430,250 420,280" fill="none" stroke="#000" stroke-width="52.0" stroke-linecap="round" stroke-linejoin="round"/><path d="M480,150 C400,138 320,160 260,220" fill="none" stroke="#000" stroke-width="30.0" stroke-linecap="round" stroke-linejoin="round"/><path d="M260,220 C210,280 190,340 192,400 C190,480 220,560 290,572" fill="none" stroke="#000" stroke-width="52.0" stroke-linecap="round" stroke-linejoin="round"/><path d="M290,572 C370,575 430,520 460,470" fill="none" stroke="#000" stroke-width="30.0" stroke-linecap="round" stroke-linejoin="round"/></g>
<g transform="translate(221.5,669) scale(0.04304)"><path d="M80,255 C110,190 200,150 330,145 C420,140 500,160 530,220" fill="none" stroke="#000" stroke-width="28.0" stroke-linecap="round" stroke-linejoin="round"/><path d="M530,220 C560,280 545,380 480,450" fill="none" stroke="#000" stroke-width="48.0" stroke-linecap="round" stroke-linejoin="round"/><path d="M480,450 C420,510 330,555 230,565 L110,570" fill="none" stroke="#000" stroke-width="34.0" stroke-linecap="round" stroke-linejoin="round"/><path d="M275,160 C250,300 220,430 170,560" fill="none" stroke="#000" stroke-width="52.0" stroke-linecap="round" stroke-linejoin="round"/><circle cx="85" cy="255" r="22" fill="#000"/></g>
<g transform="translate(477,726.4) scale(0.04304)"><path d="M450,195 C480,150 440,120 390,130 C330,140 270,170 240,220" fill="none" stroke="#000" stroke-width="32.0" stroke-linecap="round" stroke-linejoin="round"/><path d="M240,220 C220,270 260,320 380,318" fill="none" stroke="#000" stroke-width="44.0" stroke-linecap="round" stroke-linejoin="round"/><path d="M330,325 C220,350 150,430 160,510" fill="none" stroke="#000" stroke-width="50.0" stroke-linecap="round" stroke-linejoin="round"/><path d="M160,510 C170,570 260,585 330,555 C380,535 415,500 440,465" fill="none" stroke="#000" stroke-width="34.0" stroke-linecap="round" stroke-linejoin="round"/><circle cx="455" cy="180" r="34" fill="#000"/></g>
<g transform="translate(247.3,759.9) scale(0.04304)"><path d="M195,235 C230,160 300,135 420,135 L580,140" fill="none" stroke="#000" stroke-width="34.0" stroke-linecap="round" stroke-linejoin="round"/><path d="M365,160 C340,300 320,400 270,490 C230,560 150,585 115,535" fill="none" stroke="#000" stroke-width="48.0" stroke-linecap="round" stroke-linejoin="round"/><path d="M335,348 L495,348" fill="none" stroke="#000" stroke-width="30.0" stroke-linecap="round" stroke-linejoin="round"/><circle cx="570" cy="158" r="28" fill="#000"/><circle cx="125" cy="535" r="36" fill="#000"/><circle cx="200" cy="228" r="22" fill="#000"/></g>
</svg>
</body></html>
